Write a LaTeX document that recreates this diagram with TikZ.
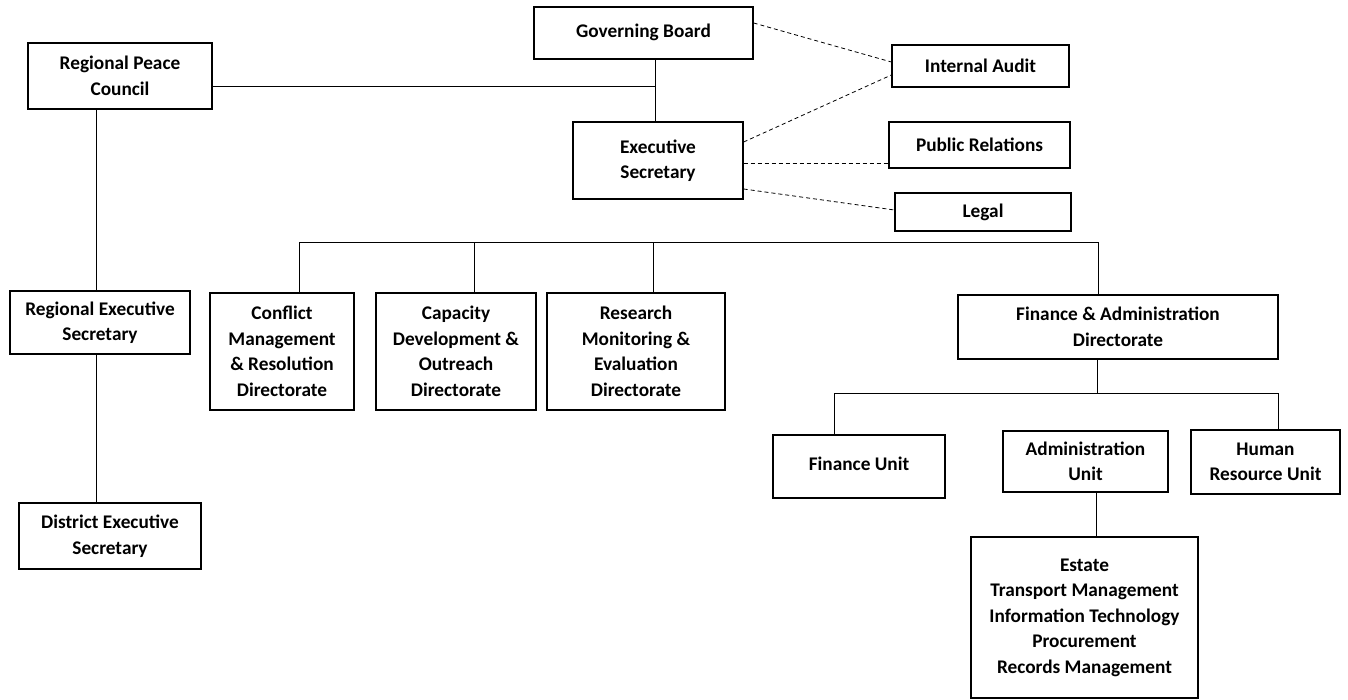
\documentclass[tikz,border=0pt]{standalone}
\usepackage{fontspec}
\setmainfont{Carlito}
\begin{document}
\begin{tikzpicture}[x=1pt,y=-1pt,
  box/.style={draw, line width=1.3pt, align=center, inner sep=0pt,
    font=\fontsize{19.3}{25.5}\selectfont\bfseries},
  conn/.style={line width=0.8pt},
  dconn/.style={line width=0.8pt, dash pattern=on 4pt off 3pt}]
\useasboundingbox[fill=white] (0,0) rectangle (1348,700);
% nodes
\node[box, minimum width=219pt, minimum height=52pt] (gb) at (643.5,33) {\raisebox{5pt}{Governing Board}};
\node[box, minimum width=184pt, minimum height=66pt] (rpc) at (120,76) {Regional Peace\\Council};
\node[box, minimum width=170pt, minimum height=77pt] (es) at (658,160.5) {Executive\\Secretary};
\node[box, minimum width=177pt, minimum height=42pt] (ia) at (980.5,66) {Internal Audit};
\node[box, minimum width=181pt, minimum height=46pt] (pr) at (979.5,145) {Public Relations};
\node[box, minimum width=176pt, minimum height=38pt] (legal) at (983,212) {Legal};
\node[box, minimum width=180pt, minimum height=63pt] (res) at (100,322.5) {Regional Executive\\Secretary};
\node[box, minimum width=182pt, minimum height=66pt] (des) at (110,536) {District Executive\\Secretary};
\node[box, minimum width=144pt, minimum height=117pt] (cmr) at (282,351.5) {Conflict\\Management\\\& Resolution\\Directorate};
\node[box, minimum width=160pt, minimum height=117pt] (cdo) at (456,351.5) {Capacity\\Development \&\\Outreach\\Directorate};
\node[box, minimum width=178pt, minimum height=117pt] (rme) at (636,351.5) {Research\\Monitoring \&\\Evaluation\\Directorate};
\node[box, minimum width=320pt, minimum height=64pt] (fad) at (1118,327) {Finance \& Administration\\Directorate};
\node[box, minimum width=172pt, minimum height=63pt] (fu) at (859,466.5) {\raisebox{6pt}{Finance Unit}};
\node[box, minimum width=165pt, minimum height=61pt] (au) at (1085.5,461.5) {Administration\\Unit};
\node[box, minimum width=149pt, minimum height=64pt] (hr) at (1265.5,462) {Human\\Resource Unit};
\node[box, minimum width=227pt, minimum height=161pt] (list) at (1084.5,617.5) {Estate\\Transport Management\\Information Technology\\Procurement\\Records Management};
% helper coordinates
\coordinate (busy) at (0,242);
\coordinate (suby) at (0,393);
\coordinate (gbs) at ([xshift=11.5pt]gb.south);
\coordinate (rpcl) at ([yshift=-10pt]rpc.east);
% solid connectors
\draw[conn] (gbs) -- (gbs |- es.north);
\draw[conn] (rpcl) -- (rpcl -| gbs);
\draw[conn] ([xshift=-24pt]rpc.south) -- ([xshift=-24pt]rpc.south |- res.north);
\draw[conn] ([xshift=-4pt]res.south) -- ([xshift=-4pt]res.south |- des.north);
\draw[conn] ([xshift=17pt]cmr.north) |- ([xshift=-20pt]fad.north |- busy) -- ([xshift=-20pt]fad.north);
\draw[conn] ([xshift=18pt]cdo.north) -- ([xshift=18pt]cdo.north |- busy);
\draw[conn] ([xshift=17pt]rme.north) -- ([xshift=17pt]rme.north |- busy);
\draw[conn] ([xshift=-21pt]fad.south) -- ([xshift=-21pt]fad.south |- suby);
\draw[conn] ([xshift=-25pt]fu.north) |- ([xshift=12.5pt]hr.north |- suby) -- ([xshift=12.5pt]hr.north);
\draw[conn] ([xshift=10.5pt]au.south) -- ([xshift=10.5pt]au.south |- list.north);
% dashed connectors
\draw[dconn] ([yshift=10pt]gb.east) -- ([yshift=4pt]ia.west);
\draw[dconn] ([yshift=18.5pt]es.east) -- ([yshift=-9pt]ia.west);
\draw[dconn] ([yshift=-2.5pt]es.east) -- ([yshift=-18pt]pr.west);
\draw[dconn] ([yshift=-28.5pt]es.east) -- ([yshift=2pt]legal.west);
\end{tikzpicture}
\end{document}
